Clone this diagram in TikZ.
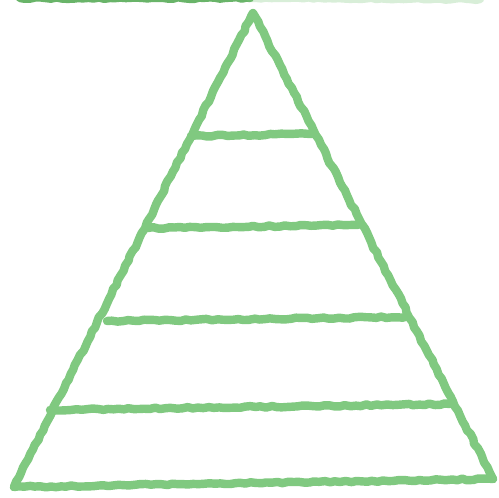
\documentclass[tikz,border=0pt]{standalone}
\usetikzlibrary{decorations.pathmorphing}
\definecolor{crayon}{RGB}{128,201,128}
\definecolor{crayondark}{RGB}{105,180,105}
\tikzset{
  chalk/.style={draw=#1,line width=4.8pt,line cap=round,line join=round,
    decorate,decoration={random steps,segment length=3pt,amplitude=0.5pt}},
  chalk/.default=crayon,
}
\begin{document}
\begin{tikzpicture}[x=0.02cm,y=-0.02cm]
  \useasboundingbox[fill=white] (0,0) rectangle (499,497);
  \clip (0,0) rectangle (499,497);
  % stroke cut off at the top edge
  \draw[chalk=crayondark] (20,-2) -- (250,-2);
  \draw[chalk,opacity=0.3] (250,-2) -- (480,-1);
  % pyramid outline
  \coordinate (apex) at (253,13);
  \coordinate (bl) at (14,487);
  \coordinate (br) at (493,479);
  \draw[chalk] (bl) -- (apex) -- (br);
  \draw[chalk] (bl) -- (br);
  % tiers
  \foreach \xa/\ya/\xb/\yb in {191/136/312/134, 148/228/358/225,
      107/321/405/317, 50/410/450/404}
    \draw[chalk] (\xa,\ya) -- (\xb,\yb);
\end{tikzpicture}
\end{document}
